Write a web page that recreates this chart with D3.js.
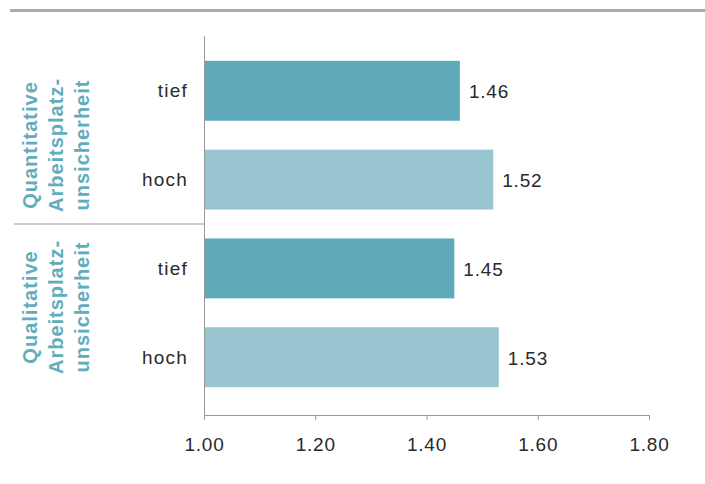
<!DOCTYPE html>
<html lang="de">
<head>
<meta charset="UTF-8">
<title>Arbeitsplatzunsicherheit</title>
<script src="https://d3js.org/d3.v7.min.js"></script>
<style>
  body { margin: 0; background: #fff; }
  text { font-family: "Liberation Sans", Arial, sans-serif; }
</style>
</head>
<body>
<svg width="705" height="484"></svg>
<script>
// data
var rows = ["q-tief", "q-hoch", "l-tief", "l-hoch"];
var rowLabels = ["tief", "hoch", "tief", "hoch"];
var values = [1.46, 1.52, 1.45, 1.53];
var groups = [
    ["Quantitative", "Arbeitsplatz-", "unsicherheit"],
    ["Qualitative", "Arbeitsplatz-", "unsicherheit"]
];
var ticks = [1.0, 1.2, 1.4, 1.6, 1.8];

var svg = d3.select("svg");
var dark = "#5eaaba", light = "#99c5d0", teal = "#62adbd";

var x = d3.scaleLinear().domain([1.0, 1.8]).range([204, 649]);
var y = d3.scaleBand().domain(rows).range([46.6, 401.4]).paddingInner(0.325).paddingOuter(0.16);

// top rule
svg.append("rect").attr("x", 10).attr("y", 9).attr("width", 695).attr("height", 3).attr("fill", "#aaa");

// bars
svg.selectAll(".bar")
    .data(rows)
    .enter().append("rect")
    .attr("class", "bar")
    .attr("x", x(1.0))
    .attr("y", function (d) { return y(d); })
    .attr("width", function (d, i) { return x(values[i]) - x(1.0); })
    .attr("height", y.bandwidth())
    .attr("fill", function (d, i) { return i % 2 == 0 ? dark : light; });

// value labels
svg.selectAll(".val")
    .data(rows)
    .enter().append("text")
    .attr("x", function (d, i) { return x(values[i]) + 9; })
    .attr("y", function (d) { return y(d) + y.bandwidth() / 2; })
    .attr("dy", "0.4em")
    .attr("font-size", 19)
    .attr("letter-spacing", 0.8)
    .attr("fill", "#2a2a2a")
    .text(function (d, i) { return values[i].toFixed(2); });

// row labels
svg.selectAll(".cat")
    .data(rows)
    .enter().append("text")
    .attr("x", 188)
    .attr("y", function (d) { return y(d) + y.bandwidth() / 2; })
    .attr("dy", "0.35em")
    .attr("text-anchor", "end")
    .attr("font-size", 19)
    .attr("letter-spacing", 1.2)
    .attr("fill", "#2a2a2a")
    .text(function (d, i) { return rowLabels[i]; });

// x axis
var xAxis = svg.append("g")
    .attr("transform", "translate(0,415)")
    .call(d3.axisBottom(x).tickValues(ticks).tickSize(5).tickPadding(18).tickFormat(d3.format(".2f")));
xAxis.select(".domain").attr("stroke", "#999");
xAxis.selectAll(".tick line").attr("stroke", "#999");
xAxis.selectAll(".tick text").attr("font-size", 19).attr("fill", "#2a2a2a")
    .attr("letter-spacing", 0.8)
    .attr("font-family", "Liberation Sans, Arial, sans-serif");

// vertical axis line
svg.append("line").attr("x1", 204.5).attr("x2", 204.5).attr("y1", 36).attr("y2", 415)
    .attr("stroke", "#999");

// group separator
var sepY = (y(rows[1]) + y.bandwidth() + y(rows[2])) / 2;
svg.append("line").attr("x1", 14).attr("x2", 204).attr("y1", sepY).attr("y2", sepY)
    .attr("stroke", "#999");

// group labels
var labelCenters = [145, 307];
groups.forEach(function (lines, gi) {
    var t = svg.append("text")
        .attr("transform", "translate(56," + labelCenters[gi] + ") rotate(-90)")
        .attr("text-anchor", "middle")
        .attr("font-size", 20)
        .attr("font-weight", "bold")
        .attr("letter-spacing", 1)
        .attr("fill", teal);
    lines.forEach(function (l, li) {
        t.append("tspan").attr("x", 0).attr("y", (li - 1) * 26).attr("dy", "0.35em").text(l);
    });
});
</script>
</body>
</html>
